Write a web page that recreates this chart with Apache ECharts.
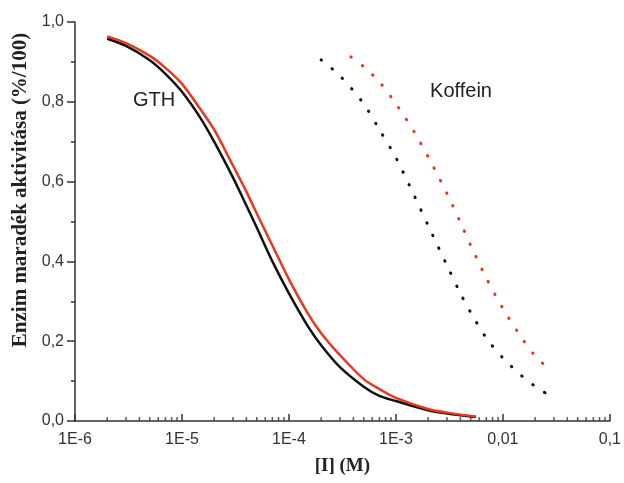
<!DOCTYPE html>
<html>
<head>
<meta charset="utf-8">
<script src="https://cdn.jsdelivr.net/npm/echarts@6/dist/echarts.min.js"></script>
<style>
  html, body { margin: 0; padding: 0; background: #fff; }
  #chart { width: 624px; height: 483px; }
</style>
</head>
<body>
<div id="chart"></div>
<script>
// GTH curves (solid)
const gthX = [2e-6, 3e-6, 5e-6, 7e-6, 1e-5, 1.5e-5, 2e-5, 3e-5, 4e-5, 5e-5, 7e-5, 1e-4, 1.5e-4, 2e-4, 3e-4, 5e-4, 7e-4, 1e-3, 2e-3, 3e-3, 5.6e-3]
const gthBlackY = [0.958, 0.94, 0.904, 0.87, 0.825, 0.758, 0.70, 0.61, 0.54, 0.485, 0.40, 0.32, 0.238, 0.19, 0.135, 0.086, 0.063, 0.05, 0.027, 0.019, 0.01]
const gthRedY = [0.964, 0.947, 0.915, 0.885, 0.845, 0.78, 0.73, 0.64, 0.575, 0.52, 0.44, 0.355, 0.27, 0.22, 0.165, 0.105, 0.08, 0.058, 0.03, 0.021, 0.011]

// Koffein curves (dotted)
const kofBlackX = [2e-4, 3e-4, 5e-4, 7e-4, 1e-3, 1.5e-3, 2e-3, 3e-3, 4e-3, 5e-3, 7e-3, 1e-2, 1.5e-2, 2e-2, 2.5e-2]
const kofBlackY = [0.905, 0.865, 0.795, 0.73, 0.66, 0.562, 0.49, 0.39, 0.32, 0.272, 0.208, 0.158, 0.113, 0.087, 0.07]
const kofRedX = [3.3e-4, 5e-4, 7e-4, 1e-3, 1.5e-3, 2e-3, 3e-3, 4e-3, 5e-3, 7e-3, 1e-2, 1.5e-2, 2e-2, 2.5e-2]
const kofRedY = [0.924, 0.888, 0.85, 0.795, 0.722, 0.662, 0.57, 0.498, 0.44, 0.358, 0.282, 0.208, 0.163, 0.138]

const xTickLabels = ['1E-6', '1E-5', '1E-4', '1E-3', '0,01', '0,1']
const decades = [1e-6, 1e-5, 1e-4, 1e-3, 1e-2]
const minorSteps = [2, 3, 4, 5, 6, 7, 8, 9]

const zip = (xs, ys) => xs.map((x, i) => [x, ys[i]])
const minorTicks = []
decades.forEach(d => minorSteps.forEach(m => minorTicks.push([d * m, 0])))

const RED = '#e8391f'
const BLACK = '#111'
const AXIS = '#333'

const myChart = echarts.init(document.getElementById('chart'))
const option = {
    animation: false,
    backgroundColor: '#fff',
    grid: { left: 75, right: 9, top: 22, bottom: 62 },
    xAxis: {
        type: 'log',
        logBase: 10,
        min: 1e-6,
        max: 0.1,
        interval: 1,
        name: '[I] (M)',
        nameLocation: 'middle',
        nameGap: 36,
        nameTextStyle: { fontFamily: 'Liberation Serif', fontWeight: 'bold', fontSize: 19, color: '#222' },
        axisLine: { lineStyle: { color: AXIS, width: 1.5 } },
        axisTick: { inside: true, length: 7, lineStyle: { color: AXIS, width: 1.5 } },
        axisLabel: {
            margin: 11,
            fontFamily: 'Liberation Sans',
            fontSize: 16,
            color: '#333',
            formatter: v => xTickLabels[Math.round(Math.log10(v)) + 6]
        },
        splitLine: { show: false }
    },
    yAxis: {
        type: 'value',
        min: 0,
        max: 1,
        interval: 0.2,
        axisLine: { show: true, lineStyle: { color: AXIS, width: 1.5 } },
        axisTick: { show: true, length: 8, lineStyle: { color: AXIS, width: 1.5 } },
        minorTick: { show: true, splitNumber: 2, length: 4, lineStyle: { color: AXIS, width: 1.5 } },
        axisLabel: {
            margin: 11,
            fontFamily: 'Liberation Sans',
            fontSize: 16,
            color: '#333',
            formatter: v => v.toFixed(1).replace('.', ',')
        },
        splitLine: { show: false }
    },
    graphic: [
        {
            type: 'text', x: 21, y: 190, rotation: Math.PI / 2,
            style: {
                text: 'Enzim maradék aktivitása (%/100)',
                font: 'bold 21px "Liberation Serif"',
                fill: '#222', align: 'center', verticalAlign: 'middle'
            }
        },
        {
            type: 'text', x: 154, y: 100,
            style: { text: 'GTH', font: '20px "Liberation Sans"', fill: '#222', align: 'center', verticalAlign: 'middle' }
        },
        {
            type: 'text', x: 461, y: 91,
            style: { text: 'Koffein', font: '20px "Liberation Sans"', fill: '#222', align: 'center', verticalAlign: 'middle' }
        }
    ],
    series: [
        {
            name: 'minor ticks',
            type: 'scatter',
            data: minorTicks,
            symbol: 'rect',
            symbolSize: [1.5, 4],
            symbolOffset: [0, -2],
            itemStyle: { color: AXIS },
            clip: false,
            silent: true
        },
        {
            name: 'GTH black',
            type: 'line',
            data: zip(gthX, gthBlackY),
            smooth: 0.3,
            showSymbol: false,
            lineStyle: { color: BLACK, width: 2.5 }
        },
        {
            name: 'GTH red',
            type: 'line',
            data: zip(gthX, gthRedY),
            smooth: 0.3,
            showSymbol: false,
            lineStyle: { color: RED, width: 2.5 }
        },
        {
            name: 'Koffein black',
            type: 'line',
            data: zip(kofBlackX, kofBlackY),
            smooth: 0.3,
            showSymbol: false,
            lineStyle: { color: BLACK, width: 3, type: [0.5, 13.5], cap: 'round' }
        },
        {
            name: 'Koffein red',
            type: 'line',
            data: zip(kofRedX, kofRedY),
            smooth: 0.3,
            showSymbol: false,
            lineStyle: { color: RED, width: 3, type: [0.5, 13.5], cap: 'round', dashOffset: 6 }
        }
    ]
}
myChart.setOption(option)
</script>
</body>
</html>
